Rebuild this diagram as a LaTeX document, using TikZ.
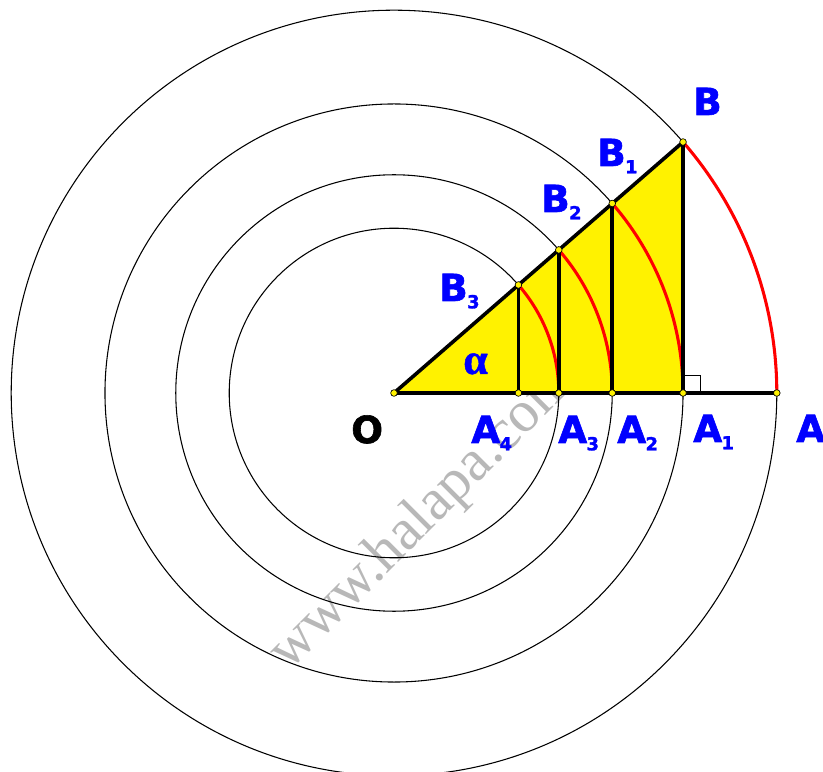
\documentclass[tikz,border=0pt]{standalone}
\usepackage{fontspec}
\usetikzlibrary{calc}
\newfontfamily\labfont{DejaVu Sans Bold}[FakeBold=1.6]
\newfontfamily\wmfont{Liberation Serif}
\newfontfamily\alfont{Liberation Serif Bold}[FakeBold=1]
\newcommand{\sbs}[1]{\kern-0.5pt\raisebox{-5.5pt}{\fontsize{13.5}{13.5}\selectfont #1}}
\begin{document}
\begin{tikzpicture}[x=0.75pt,y=0.75pt,
  circ/.style={black, line width=0.8pt},
  seg/.style={black, line width=2.7pt, line cap=round, line join=round},
  redarc/.style={red, line width=2.3pt},
  dot/.style={circle, fill=yellow, draw=black, line width=0.5pt, inner sep=0pt, minimum size=5pt},
  lab/.style={anchor=base west, inner sep=0pt, text=blue, font=\labfont\fontsize{28}{28}\selectfont},
]
\useasboundingbox (0,0) rectangle (823,771);
\pgfmathsetmacro\ang{40.97}
\pgfmathsetmacro\R{382.8}
\pgfmathsetmacro\cs{cos(\ang)}
\pgfmathsetmacro\ra{\R*\cs}
\pgfmathsetmacro\rb{\ra*\cs}
\pgfmathsetmacro\rc{\rb*\cs}
\pgfmathsetmacro\rd{\rc*\cs}
\coordinate (O) at (394,378);
\coordinate (A) at ($(O)+(\R,0)$);
\coordinate (A1) at ($(O)+(\ra,0)$);
\coordinate (A2) at ($(O)+(\rb,0)$);
\coordinate (A3) at ($(O)+(\rc,0)$);
\coordinate (A4) at ($(O)+(\rd,0)$);
\coordinate (B) at ($(O)+(\ang:\R)$);
\coordinate (B1) at ($(O)+(\ang:\ra)$);
\coordinate (B2) at ($(O)+(\ang:\rb)$);
\coordinate (B3) at ($(O)+(\ang:\rc)$);
% watermark
\node[rotate=45, anchor=base, inner sep=0pt, text=black!28, font=\wmfont\fontsize{44}{44}\selectfont] (wm) at (433,243) {www.halapa.com};
% circles
\draw[circ] (O) circle[radius=\R];
\draw[circ] (O) circle[radius=\ra];
\draw[circ] (O) circle[radius=\rb];
\draw[circ] (O) circle[radius=\rc];
% yellow triangle
\fill[yellow] (O) -- (B) -- (A1) -- cycle;
% red arcs
\draw[redarc] (A) arc[start angle=0, end angle=\ang, radius=\R];
\draw[redarc] (A1) arc[start angle=0, end angle=\ang, radius=\ra];
\draw[redarc] (A2) arc[start angle=0, end angle=\ang, radius=\rb];
\draw[redarc] (A3) arc[start angle=0, end angle=\ang, radius=\rc];
% black segments
\draw[seg] (O) -- (A);
\draw[seg] (O) -- (B);
\draw[seg] (B) -- (A1);
\draw[seg] (B1) -- (A2);
\draw[seg] (B2) -- (A3);
\draw[seg] (B3) -- (A4);
% right angle
\draw[black, line width=0.75pt] ($(A1)+(0,17)$) -- ($(A1)+(17,17)$) -- ($(A1)+(17,0)$);
% dots
\foreach \p in {O,A,A1,A2,A3,A4,B,B1,B2,B3} \node[dot] (d\p) at (\p) {};
% labels
\node[lab] (lB) at (693,656) {B};
\node[lab] (lB1) at (597,605) {B\sbs{1}};
\node[lab] (lB2) at (541,559) {B\sbs{2}};
\node[lab] (lB3) at (439,470) {B\sbs{3}};
\node[lab] (lA4) at (471,328) {A\sbs{4}};
\node[lab] (lA3) at (558,328) {A\sbs{3}};
\node[lab] (lA2) at (617,328) {A\sbs{2}};
\node[lab] (lA1) at (693,329) {A\sbs{1}};
\node[lab] (lA) at (796,329) {A};
\node[lab, text=black] (lO) at (351,328) {O};
\node[anchor=base west, inner sep=0pt, text=blue, font=\alfont\fontsize{33}{33}\selectfont] (alpha) at (463,397) {α};
\end{tikzpicture}
\end{document}
